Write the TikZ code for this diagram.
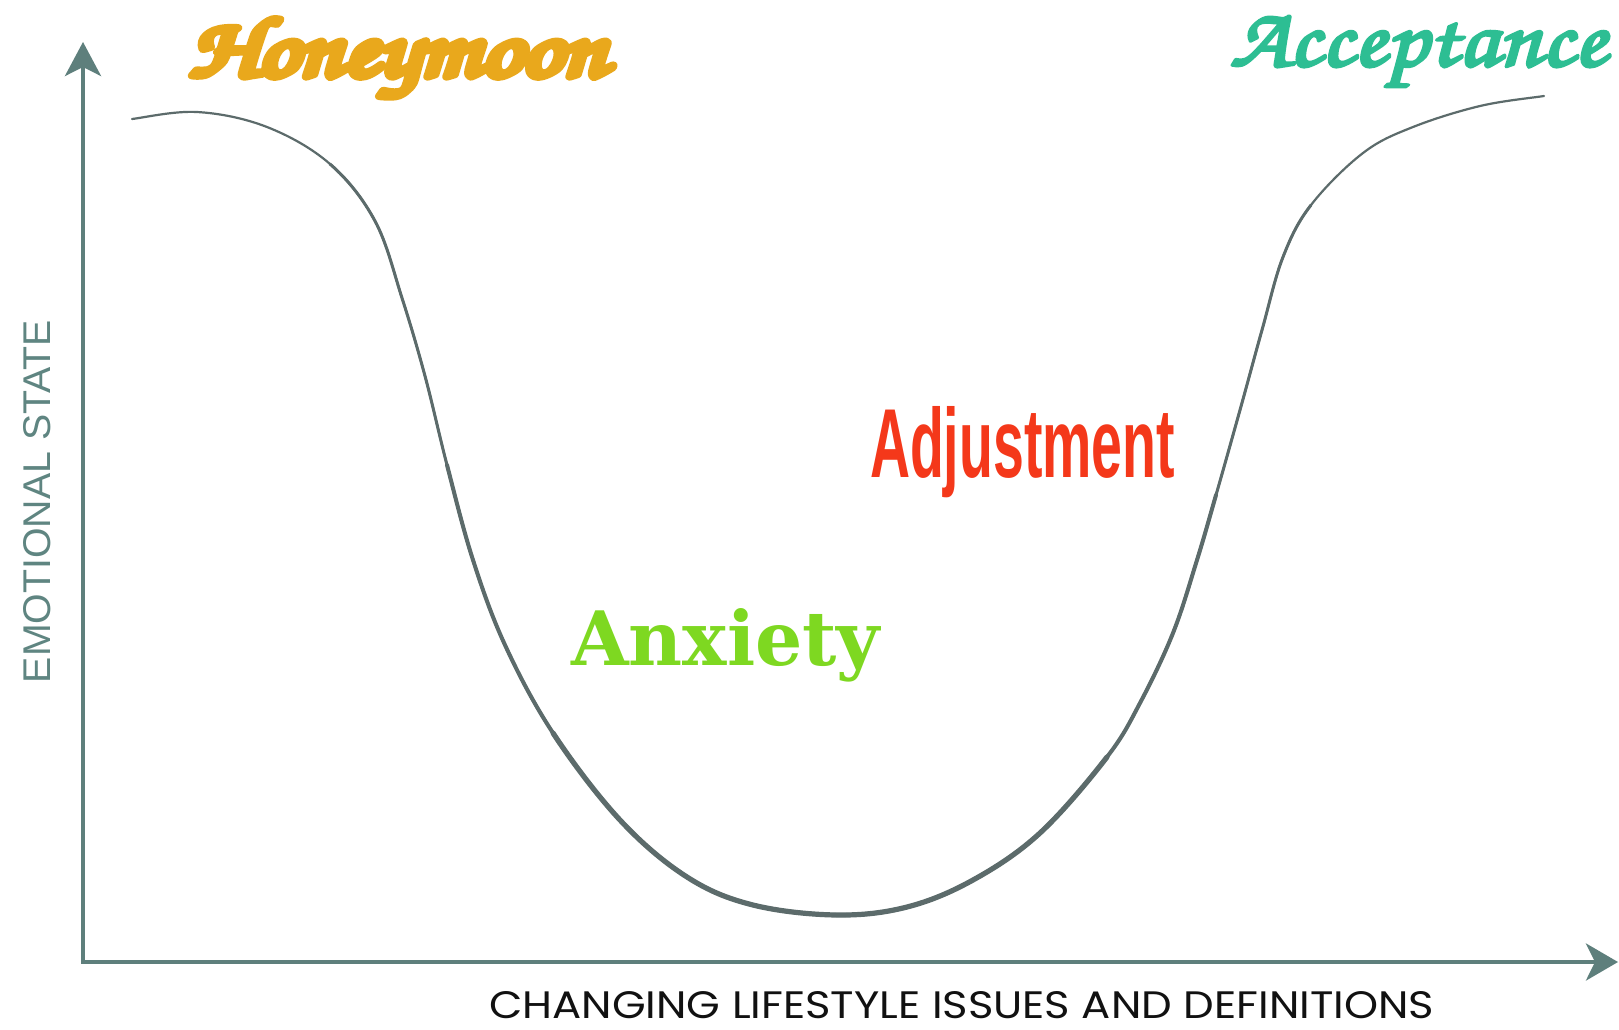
\documentclass[tikz,border=0pt]{standalone}
\usepackage[T1,TU]{fontenc}
\usepackage{fontspec}
\usepackage{graphicx}
\usetikzlibrary{arrows.meta}
\newfontfamily\geofont{Poppins}
\newfontfamily\libsans{Liberation Sans}
\newfontfamily\slabfont{DejaVu Serif}
\newcommand{\scriptfnt}{\fontencoding{T1}\fontfamily{pzc}\fontseries{mb}\fontshape{it}\selectfont}
\newcommand{\heavytext}[2]{\special{pdf:literal direct 2 Tr #1 w 1 j}#2\special{pdf:literal direct 0 Tr}}
\definecolor{honey}{HTML}{E9A81C}
\definecolor{accept}{HTML}{2DBE93}
\definecolor{adjust}{HTML}{F4381A}
\definecolor{anxious}{HTML}{7ED821}
\definecolor{axiscol}{HTML}{5E7F7C}
\definecolor{curvecol}{HTML}{5C6B6B}
\definecolor{ylabcol}{HTML}{5F8581}
\definecolor{xlabcol}{HTML}{111111}
\tikzset{
  axisline/.style={draw=axiscol, line width=4pt, line join=miter,
    {Stealth[length=34pt,width=36pt,inset=9pt]}-{Stealth[length=32pt,width=37pt,inset=9pt]}},
  lbl/.style={inner sep=0pt, outer sep=0pt, anchor=base west},
  curveline/.style={draw=curvecol, line cap=round, line join=round},
}
\begin{document}
\begin{tikzpicture}[x=1pt,y=-1pt]
\useasboundingbox[fill=white] (0,0) rectangle (1619,1029);
% axes
\coordinate (O) at (83,962);
\coordinate (Ytip) at (83,42);
\coordinate (Xtip) at (1618,962);
\draw[axisline] (Ytip) -- (O) -- (Xtip);
% curve (identical segments, overlaid with increasing width towards the bottom)
\def\segA{(132,119) .. controls (142.8,117.8) and (174.5,110.7) .. (197,112)
 .. controls (219.5,113.3) and (244.8,118.3) .. (267,127)
 .. controls (289.2,135.7) and (312,148.3) .. (330,164)}
\def\segB{(330,164) .. controls (348,179.7) and (363,198.7) .. (375,221)
 .. controls (387,243.3) and (393.7,272.2) .. (402,298)
 .. controls (410.3,323.8) and (417.5,348.2) .. (425,376)
 .. controls (432.5,403.8) and (439,434.3) .. (447,465)}
\def\segC{(447,465) .. controls (455,495.7) and (463.3,530) .. (473,560)
 .. controls (482.7,590) and (491.7,616.2) .. (505,645)
 .. controls (518.3,673.8) and (533.8,703.8) .. (553,733)}
\def\segD{(553,733) .. controls (572.2,762.2) and (597.7,796) .. (620,820)
 .. controls (642.3,844) and (664.8,862.8) .. (687,877)
 .. controls (709.2,891.2) and (728,898.7) .. (753,905)
 .. controls (778,911.3) and (811.3,914.7) .. (837,915)
 .. controls (862.7,915.3) and (884.3,912.8) .. (907,907)
 .. controls (929.7,901.2) and (950.8,892.3) .. (973,880)
 .. controls (995.2,867.7) and (1017.7,853.5) .. (1040,833)
 .. controls (1062.3,812.5) and (1090.3,778.7) .. (1107,757)}
\def\segE{(1107,757) .. controls (1123.7,735.3) and (1129,723.7) .. (1140,703)
 .. controls (1151,682.3) and (1163.5,656.8) .. (1173,633)
 .. controls (1182.5,609.2) and (1189.8,583) .. (1197,560)
 .. controls (1204.2,537) and (1208.8,520) .. (1216,495)}
\def\segF{(1216,495) .. controls (1223.2,470) and (1232.3,437.5) .. (1240,410)
 .. controls (1247.7,382.5) and (1254.8,355.5) .. (1262,330)
 .. controls (1269.2,304.5) and (1274.8,277.8) .. (1283,257)
 .. controls (1291.2,236.2) and (1297.7,222.3) .. (1311,205)}
\def\segG{(1311,205) .. controls (1324.3,187.7) and (1346,166) .. (1363,153)
 .. controls (1380,140) and (1393.5,134.8) .. (1413,127)
 .. controls (1432.5,119.2) and (1458.2,111.2) .. (1480,106)
 .. controls (1501.8,100.8) and (1533.3,97.7) .. (1544,96)}
\draw[curveline, line width=2.2pt] \segA \segB \segC \segD \segE \segF \segG;
\draw[curveline, line width=3pt] \segB \segC \segD \segE \segF;
\draw[curveline, line width=4pt] \segC \segD \segE;
\draw[curveline, line width=5.2pt] \segD;
% labels
\node[lbl, text=honey] (honeymoon) at (189,76) {\resizebox{418pt}{60pt}{\scriptfnt\heavytext{0.9}{Honeymoon}}};
\node[lbl, text=accept] (acceptance) at (1230,66) {\resizebox{376pt}{52pt}{\scriptfnt\heavytext{0.35}{Acceptance}}};
\node[lbl, text=adjust] (adjustment) at (870,477) {\resizebox{305pt}{71pt}{\libsans\bfseries Adjustment}};
\node[lbl, text=anxious] (anxiety) at (571,665) {\resizebox{309pt}{57pt}{\slabfont\bfseries Anxiety}};
\node[lbl, text=xlabcol] (xlabel) at (489,1018) {\resizebox{945pt}{27pt}{\geofont CHANGING LIFESTYLE ISSUES AND DEFINITIONS}};
\node[lbl, text=ylabcol, rotate=90] (ylabel) at (50,683) {\resizebox{363pt}{27pt}{\libsans EMOTIONAL STATE}};
\end{tikzpicture}
\end{document}
